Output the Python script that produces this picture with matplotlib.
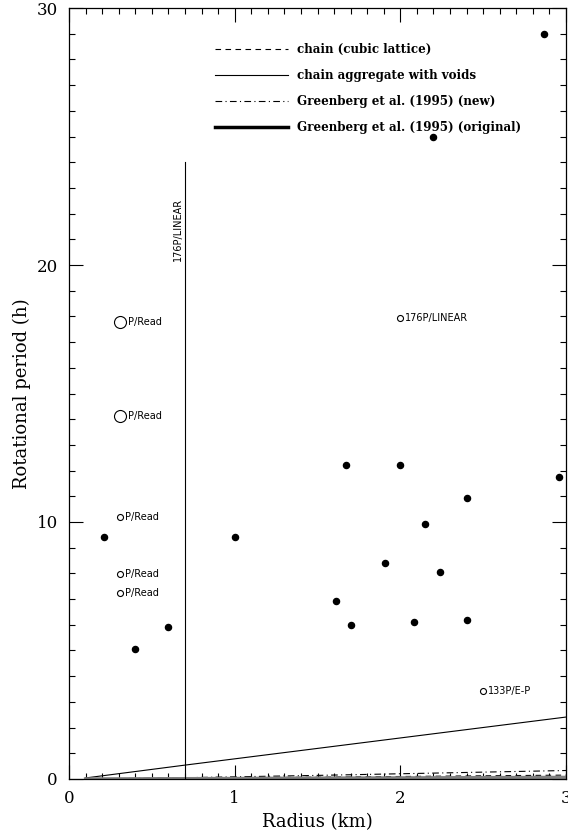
import numpy as np
import matplotlib.pyplot as plt
from matplotlib.ticker import MultipleLocator

# observed comets (filled dots)
radius_obs = [0.21, 0.40, 0.60, 1.00, 1.61, 1.67, 1.70, 1.91, 2.00, 2.08,
              2.15, 2.24, 2.40, 2.40, 2.20, 2.87, 2.96]
period_obs = [9.42, 5.06, 5.91, 9.42, 6.93, 12.2, 5.99, 8.40, 12.2, 6.11,
              9.92, 8.05, 10.93, 6.19, 24.98, 28.99, 11.75]

# labelled open circles
lab_radius = [0.31, 0.31, 0.31, 0.31, 0.31, 2.00, 2.50]
lab_period = [17.78, 14.12, 10.19, 7.98, 7.24, 17.94, 3.42]
lab_text = ["P/Read", "P/Read", "P/Read", "P/Read", "P/Read", "176P/LINEAR", "133P/E-P"]
lab_size = [12, 12, 6, 6, 6, 6, 6]

# model curves
r_curve = [0.1, 0.7, 1.5, 3.0]
p_cubic = [0.0, 0.04, 0.07, 0.15]
p_voids = [0.04, 0.54, 1.19, 2.41]
p_green_new = [0.0, 0.05, 0.14, 0.33]
p_green_orig = [0.0, 0.01, 0.03, 0.06]

# 176P/LINEAR radius limit
lim_r = 0.7
lim_p = 24.0

plt.rcParams['font.family'] = ['DejaVu Serif']

fig = plt.figure(figsize=(5.68, 8.36), dpi=100)
ax = fig.add_axes([0.1215, 0.0682, 0.875, 0.9222])

ax.plot(r_curve, p_cubic, 'k--', lw=0.8, dashes=(5, 4), label="chain (cubic lattice)")
ax.plot(r_curve, p_voids, 'k-', lw=0.8, label="chain aggregate with voids")
ax.plot(r_curve, p_green_new, 'k-.', lw=0.8, dashes=(6, 3, 1, 3), label="Greenberg et al. (1995) (new)")
ax.plot(r_curve, p_green_orig, '-', color='0.5', lw=2.5, label="Greenberg et al. (1995) (original)")

ax.plot([lim_r, lim_r], [0, lim_p], 'k-', lw=0.8)
ax.text(lim_r - 0.04, lim_p - 2.6, "176P/LINEAR", rotation=90, ha='center', va='center',
        family='DejaVu Sans', fontsize=7)

ax.plot(radius_obs, period_obs, 'ko', ms=4.4, mec='k')

for r, p, t, s in zip(lab_radius, lab_period, lab_text, lab_size):
    ax.plot(r, p, 'o', mfc='white', mec='k', mew=0.8, ms=s * 0.72)
    ax.annotate(t, (r, p), xytext=(s * 0.36 + 1.5, 0), textcoords='offset points',
                ha='left', va='center', family='DejaVu Sans', fontsize=7)

ax.set_xlim(0, 3)
ax.set_ylim(0, 30)
ax.xaxis.set_major_locator(MultipleLocator(1))
ax.xaxis.set_minor_locator(MultipleLocator(0.1))
ax.yaxis.set_major_locator(MultipleLocator(10))
ax.yaxis.set_minor_locator(MultipleLocator(1))
ax.tick_params(which='both', direction='in', top=True, right=True, width=0.8, labelsize=12)
ax.tick_params(which='major', length=10, pad=8)
ax.tick_params(which='minor', length=4)
for sp in ax.spines.values():
    sp.set_linewidth(0.9)

ax.set_xlabel("Radius (km)", fontsize=13, labelpad=4)
ax.set_ylabel("Rotational period (h)", fontsize=13, labelpad=4)

leg = ax.legend(loc='upper left', bbox_to_anchor=(0.273, 0.968), frameon=False,
                handlelength=6.1, handletextpad=0.75, labelspacing=1.07,
                prop={'family': 'DejaVu Serif', 'size': 8.6, 'weight': 'bold'})
leg.legend_handles[3].set_color('k')

fig.savefig("out.png", dpi=100)
